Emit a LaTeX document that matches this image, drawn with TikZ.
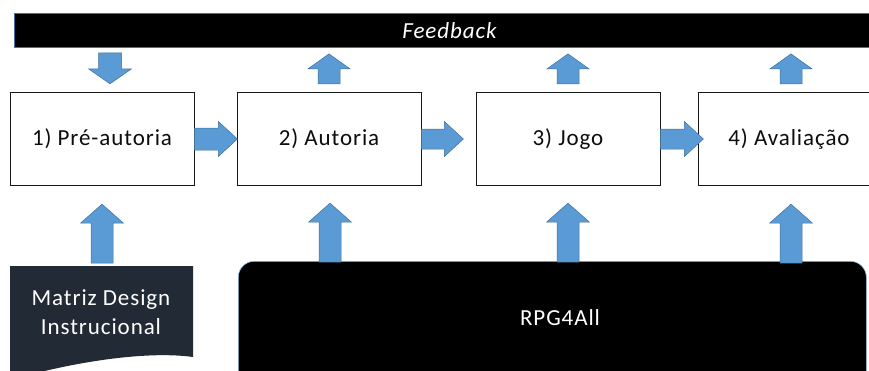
\documentclass[tikz,border=0pt]{standalone}
\usepackage{fontspec}
\setmainfont{Carlito}
\newfontfamily\labelfont[LetterSpace=4]{Carlito}
\usetikzlibrary{calc}
\definecolor{arrowblue}{HTML}{5B9BD5}
\definecolor{arrowedge}{HTML}{41719C}
\definecolor{docnavy}{HTML}{222A35}
\definecolor{baredge}{HTML}{41719C}
\tikzset{
  stage/.style={draw=black!90, line width=0.8pt, fill=white,
    minimum width=184pt, minimum height=93.5pt, inner sep=0pt,
    font=\labelfont\fontsize{23}{27}\selectfont, text=black!95},
  barrow/.style={fill=arrowblue, draw=arrowedge, line width=0.5pt},
  % block arrow pointing along +x: length / stem half-width / head half-width / head length
  pics/blockarrow/.style args={#1/#2/#3/#4}{code={
    \path[barrow] (0,-#2) -- (#1-#4,-#2) -- (#1-#4,-#3) -- (#1,0)
      -- (#1-#4,#3) -- (#1-#4,#2) -- (0,#2) -- cycle;}},
  whitetext/.style={text=white, inner sep=0pt}
}
\begin{document}
\begin{tikzpicture}[x=1pt, y=-1pt]
\useasboundingbox (0,0) rectangle (869,370);
\clip (0,0) rectangle (869,370);

% feedback bar
\node[draw=baredge, line width=0.6pt, fill=black, minimum width=870pt,
  minimum height=34pt, anchor=north west, inner sep=0pt] (fb) at (14,13) {};
\node[whitetext, font=\labelfont\itshape\fontsize{23}{27}\selectfont] (fbt) at (449.5,30.5) {Feedback};

% stages
\node[stage] (b1) at (102,139) {1) Pré-autoria};
\node[stage] (b2) at (329,139) {2) Autoria};
\node[stage] (b3) at (568,139) {3) Jogo};
\node[stage] (b4) at (790,139) {\hspace*{-2pt}4) Avaliação};

% arrows between stages
\pic at (b1.east) {blockarrow=43/11/17.5/19};
\pic at (b2.east) {blockarrow=42/10/17.5/19};
\pic at (b3.east) {blockarrow=43/10/17.5/19};

% feedback arrows
\pic[rotate=-90] at ($(b1.north)+(8,-39)$) {blockarrow=31/11.5/21.5/15};
\pic[rotate=90] at ($(b2.north)+(0,-8)$) {blockarrow=30/11/21/15};
\pic[rotate=90] at ($(b3.north)+(0,-8)$) {blockarrow=30/11/21/15};
\pic[rotate=90] at ($(b4.north)+(1,-8)$) {blockarrow=30/11/21/15};

% instructional design matrix (document shape)
\path[fill=docnavy] (10,266) -- (193,266) -- (193,357)
  .. controls (150,351) and (80,360) .. (10,380) -- cycle;
\coordinate (doc) at (101,266);
\node[whitetext, align=center, font=\labelfont\fontsize{23}{29}\selectfont] (doct) at (101,312)
  {Matriz Design\\Instrucional};

% RPG4All platform
\node[draw=arrowblue!70, line width=0.6pt, fill=black, rounded corners=16pt,
  minimum width=628pt, minimum height=130pt, anchor=north west, inner sep=0pt] (rpg) at (238,261) {};
\node[whitetext, font=\labelfont\fontsize{23}{27}\selectfont] (rpgt) at (560,318) {RPG4All};

% inputs from below
\pic[rotate=90] at ($(b1.south)+(0,77)$) {blockarrow=59/11/21.5/19};
\pic[rotate=90] at ($(b2.south)+(1,76)$) {blockarrow=59/11/21.5/19};
\pic[rotate=90] at ($(b3.south)+(0,76)$) {blockarrow=59/11/21.5/19};
\pic[rotate=90] at ($(b4.south)+(1,77)$) {blockarrow=59/11/21.5/19};
\end{tikzpicture}
\end{document}
